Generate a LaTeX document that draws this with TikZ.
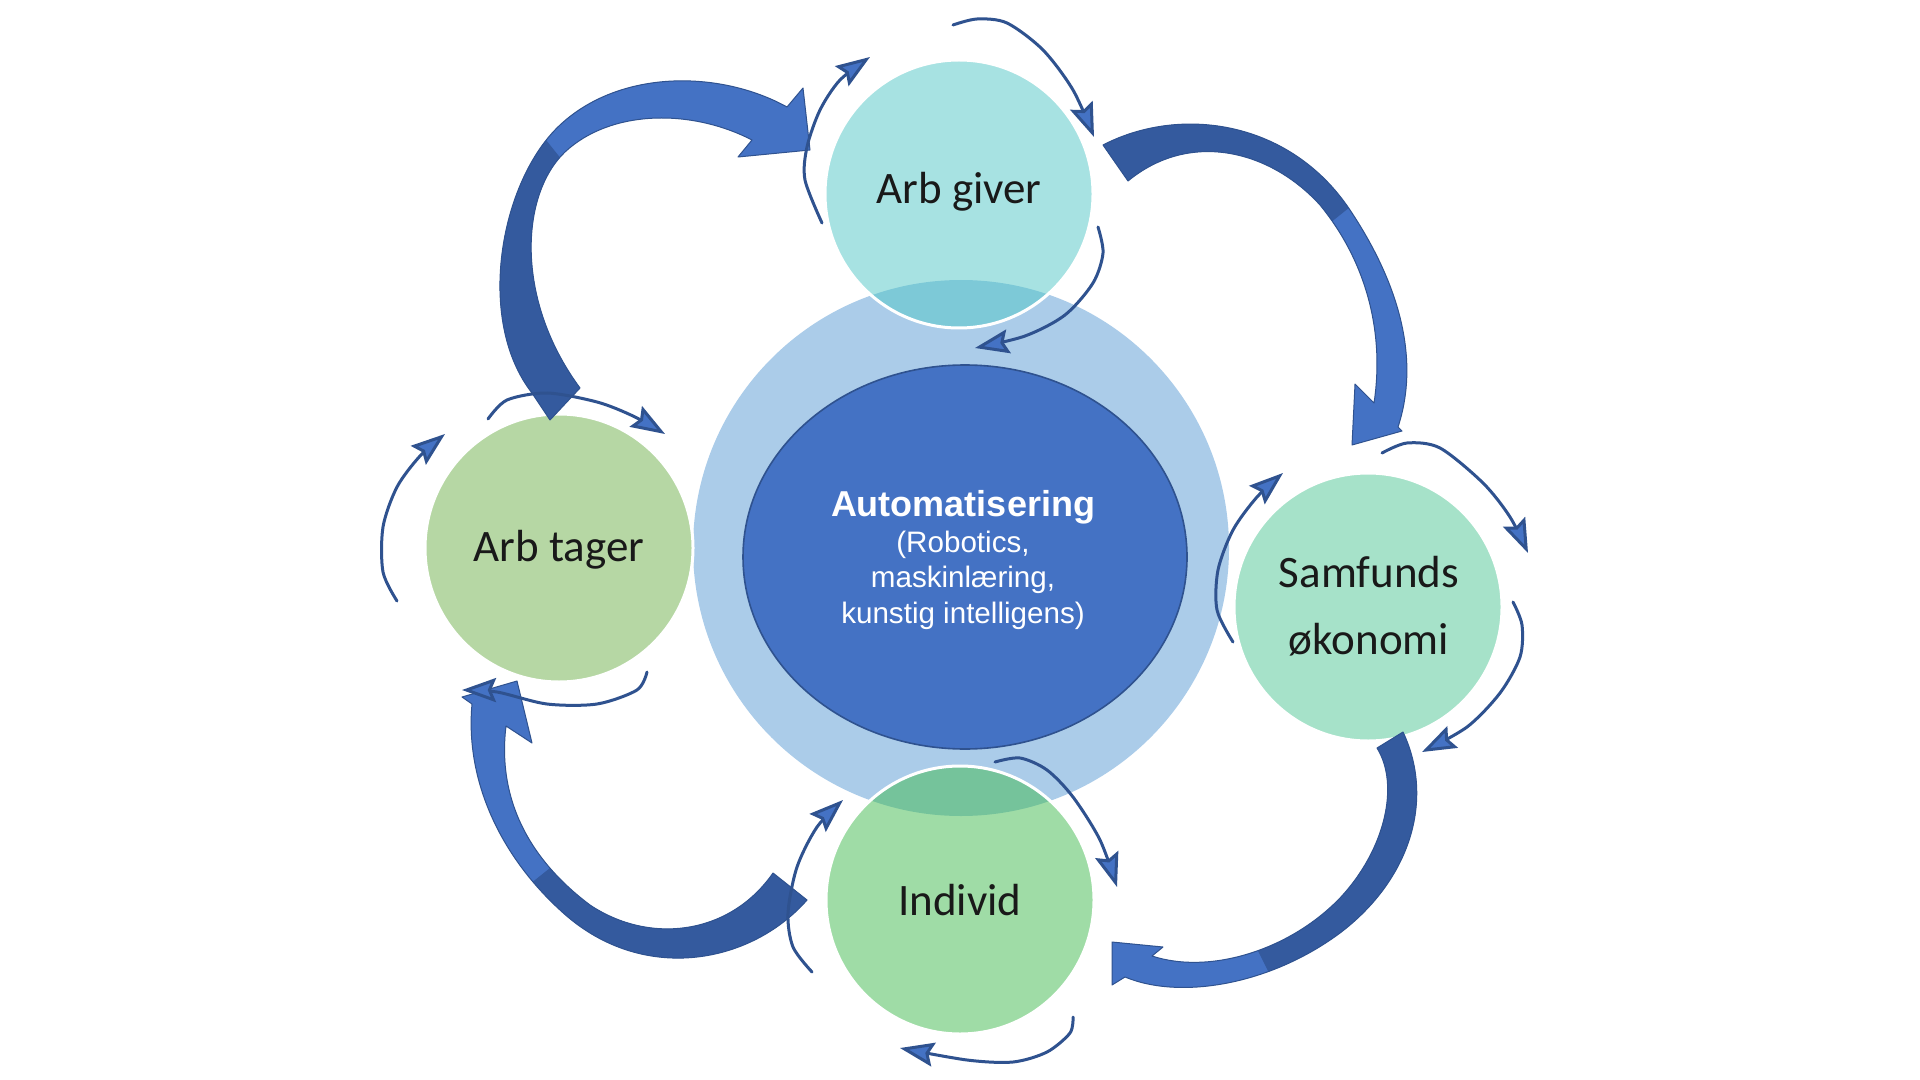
\documentclass[tikz,border=0pt]{standalone}
\usepackage{fontspec}
\setmainfont{Liberation Sans}
\newfontfamily\calib{Carlito}
\usetikzlibrary{arrows.meta,shapes.geometric}
\definecolor{lightring}{RGB}{171,204,233}
\definecolor{core}{RGB}{68,114,196}
\definecolor{coreedge}{RGB}{47,82,143}
\definecolor{giverbase}{RGB}{81,199,199}
\definecolor{individbase}{RGB}{65,187,79}
\definecolor{samf}{RGB}{166,226,201}
\definecolor{tager}{RGB}{182,215,164}
\definecolor{arrlight}{RGB}{68,114,196}
\definecolor{arrdark}{RGB}{52,90,158}
\definecolor{arredge}{RGB}{47,82,143}
\definecolor{labtext}{RGB}{25,25,25}
\tikzset{
  smallc/.style={circle, minimum size=134pt, inner sep=0pt, draw=white, line width=1.5pt},
  lab/.style={font=\calib\fontsize{22.5}{27}\selectfont, text=labtext, anchor=base, inner sep=0pt},
  ctext/.style={text=white, anchor=base, inner sep=0pt},
  biglight/.style={fill=arrlight},
  bigdark/.style={fill=arrdark},
  bigedge/.style={draw=arredge, line width=0.5pt, line join=round},
  sarr/.style={draw=arredge, line width=1.5pt, line cap=round,
    -{Stealth[length=17pt,width=12pt,inset=2.5pt,fill=arrlight]}},
}
% outlines of the four large curved arrows
\def\bigA{(532,393) .. controls (475,320) and (500,181) .. (560,125) .. controls (620,69) and (720,70) .. (787,107)
  -- (803,88) -- (810,150) -- (738,157) -- (752,140) .. controls (690,108) and (610,110) .. (565,152)
  .. controls (520,195) and (515,300) .. (580,388) -- (550,420) -- cycle}
\def\bigB{(1103,145) .. controls (1180,105) and (1290,120) .. (1350,210) .. controls (1400,285) and (1420,360) .. (1398,427)
  -- (1402,431) -- (1352,445) -- (1355,384) -- (1374,403) .. controls (1385,330) and (1365,260) .. (1320,205)
  .. controls (1270,150) and (1190,130) .. (1128,181) -- cycle}
\def\bigC{(1403,732) .. controls (1435,800) and (1410,880) .. (1340,933) .. controls (1270,985) and (1180,1000) .. (1125,977)
  -- (1112,985) -- (1112,942) -- (1163,947) -- (1152,956) .. controls (1210,975) and (1290,950) .. (1340,898)
  .. controls (1385,850) and (1400,785) .. (1377,748) -- cycle}
\def\bigD{(807,900) .. controls (750,965) and (640,985) .. (560,910) .. controls (500,855) and (465,780) .. (472,704)
  -- (462,697) -- (517,681) -- (532,743) -- (506,726) .. controls (497,800) and (530,860) .. (590,905)
  .. controls (650,945) and (730,935) .. (773,873) -- cycle}
\begin{document}
\begin{tikzpicture}[x=0.5pt,y=-0.5pt]
\useasboundingbox (0,0) rectangle (1920,1080);
\fill[white] (0,0) rectangle (1920,1080);

% central ring and core
\node[circle, fill=lightring, minimum size=268pt, inner sep=0pt] (ring) at (961,548) {};
\node[ellipse, fill=core, draw=coreedge, line width=0.8pt, minimum width=222pt, minimum height=192pt, inner sep=0pt] (core) at (965,557) {};
\node[ctext, font=\bfseries\fontsize{18}{20}\selectfont] (c1) at (963,516) {Automatisering};
\node[ctext, font=\fontsize{14.8}{18}\selectfont] (c2) at (963,552) {(Robotics,};
\node[ctext, font=\fontsize{14.8}{18}\selectfont] (c3) at (963,587) {maskinlæring,};
\node[ctext, font=\fontsize{14.8}{18}\selectfont] (c4) at (963,623) {kunstig intelligens)};

% four circles
\node[smallc, fill=giverbase, fill opacity=0.5, draw opacity=1] (giver) at (959,194) {};
\node[smallc, fill=individbase, fill opacity=0.5, draw opacity=1] (individ) at (960,900) {};
\node[smallc, fill=samf] (samfund) at (1368,607) {};
\node[smallc, fill=tager] (tagerc) at (559,548) {};

\node[lab] (lgiver) at (959,204) {Arb giver};
\node[lab] (ltager) at (559,561) {Arb tager};
\node[lab] (lsamf1) at (1369,587) {Samfunds};
\node[lab] (lsamf2) at (1369,654) {økonomi};
\node[lab] (lind) at (960,915) {Individ};

% big arrow 1: Arb tager -> Arb giver
\path[biglight] \bigA;
\begin{scope}
  \clip (470,45) -- (630,245) -- (630,500) -- (300,500) -- (300,45) -- cycle;
  \path[bigdark] \bigA;
\end{scope}
\path[bigedge] \bigA;

% big arrow 2: Arb giver -> Samfunds
\path[biglight] \bigB;
\begin{scope}
  \clip (1240,295) -- (1440,135) -- (1440,0) -- (1050,0) -- (1050,295) -- cycle;
  \path[bigdark] \bigB;
\end{scope}
\path[bigedge] \bigB;

% big arrow 3: Samfunds -> Individ
\path[biglight] \bigC;
\begin{scope}
  \clip (1215,865) -- (1315,1065) -- (1500,1065) -- (1500,700) -- (1215,700) -- cycle;
  \path[bigdark] \bigC;
\end{scope}
\path[bigedge] \bigC;

% big arrow 4: Individ -> Arb tager
\path[biglight] \bigD;
\begin{scope}
  \clip (435,960) -- (635,800) -- (850,800) -- (850,1000) -- (435,1000) -- cycle;
  \path[bigdark] \bigD;
\end{scope}
\path[bigedge] \bigD;

% small arrows around Arb giver
\draw[sarr] plot[smooth] coordinates {(822,223) (805,180) (807,147) (820,110) (840,80) (870,57)};
\draw[sarr] plot[smooth] coordinates {(953,25) (977,19) (1007,23) (1043,50) (1073,90) (1094,137)};
\draw[sarr] plot[smooth] coordinates {(1098,227) (1103,253) (1093,283) (1065,315) (1025,336) (975,348)};
% around Samfunds
\draw[sarr] plot[smooth] coordinates {(1233,642) (1217,610) (1218,570) (1233,530) (1257,497) (1283,473)};
\draw[sarr] plot[smooth] coordinates {(1382,453) (1407,443) (1440,448) (1483,483) (1510,517) (1528,553)};
\draw[sarr] plot[smooth] coordinates {(1513,602) (1522,625) (1520,657) (1500,693) (1467,727) (1422,752)};
% around Individ
\draw[sarr] plot[smooth] coordinates {(995,762) (1020,758) (1047,770) (1073,797) (1100,840) (1117,887)};
\draw[sarr] plot[smooth] coordinates {(1073,1017) (1070,1033) (1047,1052) (1013,1062) (967,1060) (900,1048)};
\draw[sarr] plot[smooth] coordinates {(812,972) (793,947) (788,913) (797,867) (817,827) (843,800)};
% around Arb tager
\draw[sarr] plot[smooth] coordinates {(397,601) (383,572) (383,527) (397,487) (420,456) (445,434)};
\draw[sarr] plot[smooth] coordinates {(488,419) (507,400) (547,393) (597,402) (633,416) (665,434)};
\draw[sarr] plot[smooth] coordinates {(647,672) (637,690) (597,704) (547,704) (497,692) (462,690)};
\end{tikzpicture}
\end{document}
